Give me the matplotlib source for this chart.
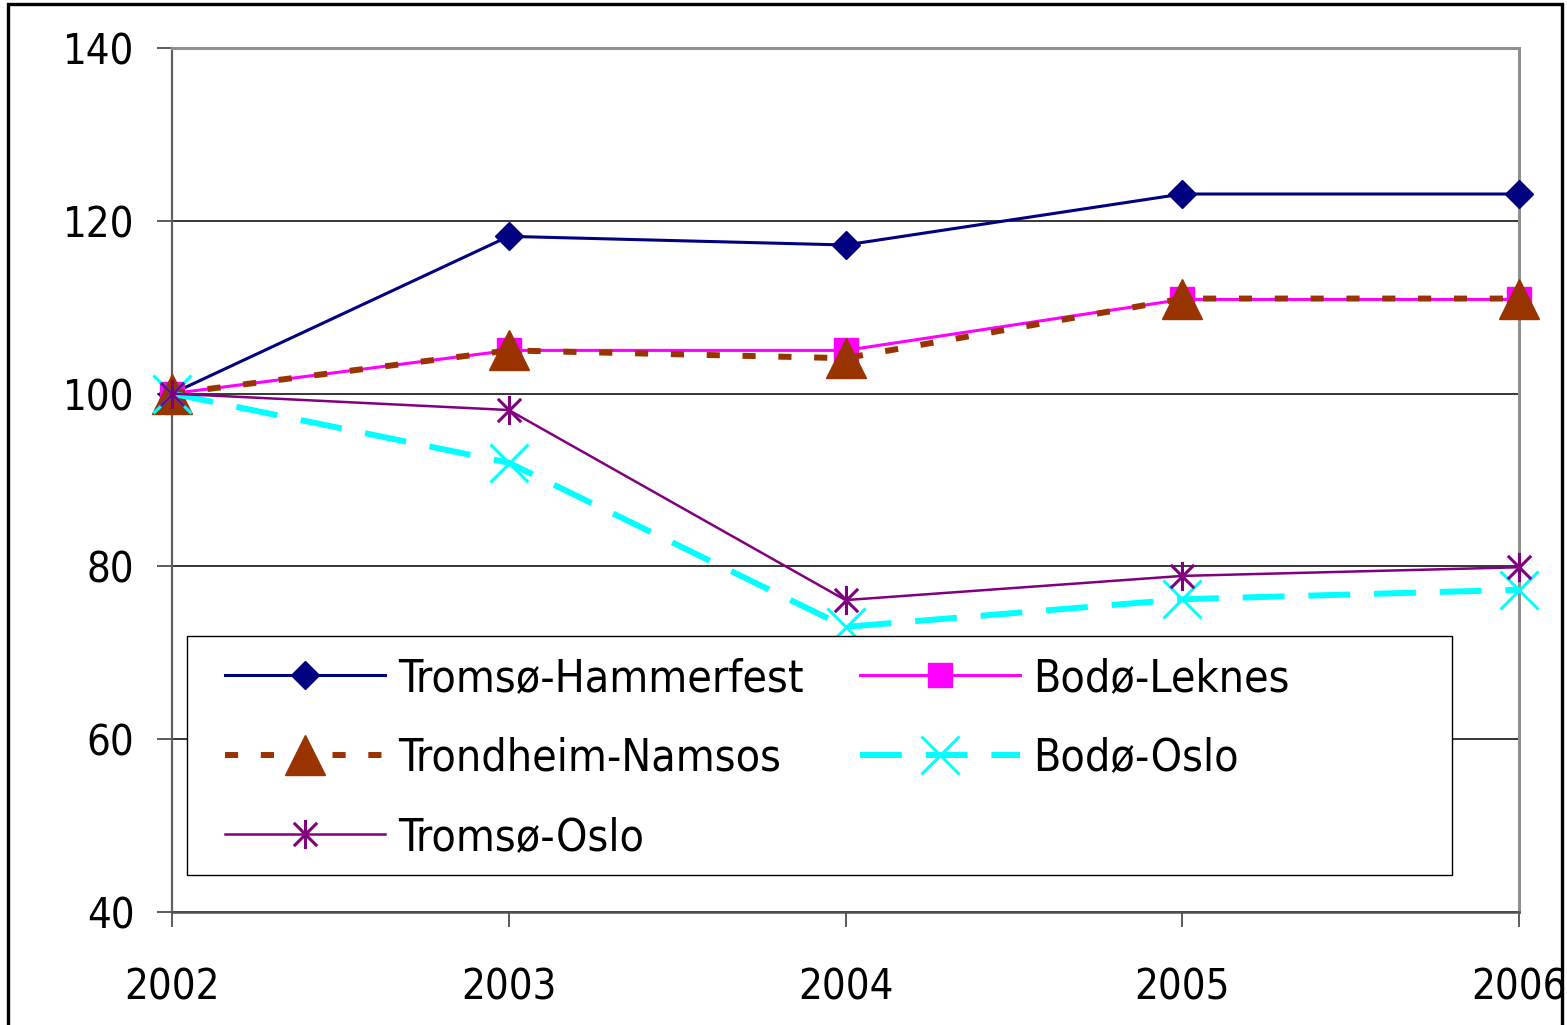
import matplotlib
matplotlib.use("Agg")
import matplotlib.pyplot as plt
from matplotlib.path import Path
from matplotlib.patches import Rectangle
from matplotlib import font_manager as fm
import numpy as np

years = ["2002", "2003", "2004", "2005", "2006"]
tromso_hammerfest = [100, 118.2, 117.2, 123.1, 123.1]
bodo_leknes = [100, 105.0, 105.0, 110.9, 110.9]
trondheim_namsos = [100, 105.0, 104.1, 111.0, 111.0]
bodo_oslo = [100, 92.0, 73.0, 76.2, 77.3]
tromso_oslo = [100, 98.1, 76.1, 78.9, 79.9]
yticks = [40, 60, 80, 100, 120, 140]

# choose a narrow sans font if one is installed
def pick_font():
    prefs = [('liberation sans narrow', None), ('arial narrow', None),
             ('dejavu sans', 'condensed'), ('roboto condensed', None),
             ('open sans condensed', None)]
    for name, stretch in prefs:
        for f in fm.fontManager.ttflist:
            if f.name.lower() == name and f.weight in (400, 'normal', 'regular') \
                    and f.style == 'normal':
                if stretch is None or str(f.stretch) in ('condensed', '300', 'semi-condensed'):
                    return f.fname, name
    return None, 'liberation sans'

fname, chosen = pick_font()
def fp(size):
    if fname:
        return fm.FontProperties(fname=fname, size=size)
    return fm.FontProperties(family=['Liberation Sans', 'DejaVu Sans'], size=size)

W, H = 1567, 1025
fig = plt.figure(figsize=(W / 100, H / 100), dpi=100)
ax = fig.add_axes([172 / W, 1 - 912 / H, (1519 - 172) / W, (912 - 48) / H])

x = np.arange(len(years))

star = Path([(0, -1), (0, 1), (-0.8, -0.8), (0.8, 0.8), (-0.8, 0.8), (0.8, -0.8)],
            [Path.MOVETO, Path.LINETO, Path.MOVETO, Path.LINETO, Path.MOVETO, Path.LINETO])

l1, = ax.plot(x, tromso_hammerfest, color='#000080', lw=2.2, marker='D', ms=14,
              mfc='#000080', mec='#000080', label='Tromsø-Hammerfest', clip_on=False, zorder=3)
l2, = ax.plot(x, bodo_leknes, color='#FF00FF', lw=2.2, marker='s', ms=17,
              mfc='#FF00FF', mec='#FF00FF', label='Bodø-Leknes', clip_on=False, zorder=3)
l3, = ax.plot(x, trondheim_namsos, color='#993300', lw=4.3, dashes=(2.2, 3.8), marker='^', ms=29,
              mfc='#993300', mec='#993300', label='Trondheim-Namsos', clip_on=False, zorder=3)
l4, = ax.plot(x, bodo_oslo, color='#00FFFF', lw=4.3, dashes=(7, 4), marker='x', ms=27, mew=2.2,
              mec='#00FFFF', label='Bodø-Oslo', clip_on=False, zorder=3)
l5, = ax.plot(x, tromso_oslo, color='#800080', lw=1.8, marker=star, ms=21, mew=2.2,
              mfc='none', mec='#800080', label='Tromsø-Oslo', clip_on=False, zorder=3)

ax.set_xlim(0, 4)
ax.set_ylim(40, 140)
ax.set_yticks(yticks)
ax.set_xticks(x)
ax.set_xticklabels(years)
ax.grid(axis='y', color='black', lw=1.1)
ax.set_axisbelow(True)

for s in ['top', 'right']:
    ax.spines[s].set_color('#909090')
    ax.spines[s].set_linewidth(2.2)
ax.spines['left'].set_color('#606060')
ax.spines['left'].set_linewidth(1.6)
ax.spines['bottom'].set_color('#505050')
ax.spines['bottom'].set_linewidth(1.8)

ax.tick_params(axis='y', direction='out', length=11, width=1.2, color='#404040', pad=16)
ax.tick_params(axis='x', direction='out', length=11, width=1.2, color='#404040', pad=28)
for lab in ax.get_xticklabels() + ax.get_yticklabels():
    lab.set_fontproperties(fp(30))

# legend box (fixed size, as in the original)
ax.add_patch(Rectangle((187 / W, 1 - 875 / H), (1452 - 187) / W, (875 - 636) / H,
                       transform=fig.transFigure, facecolor='white', edgecolor='black',
                       lw=1.0, zorder=4, clip_on=False))

handles = [l1, l3, l5, l2, l4]
leg = ax.legend(handles=handles, labels=[h.get_label() for h in handles], ncol=2,
                loc='upper left', bbox_to_anchor=(205 / W, 1 - 637 / H),
                bbox_transform=fig.transFigure, borderaxespad=0,
                prop=fp(32), frameon=False, handlelength=3.6, handletextpad=0.29,
                labelspacing=0.82, columnspacing=1.28, borderpad=0.45)
leg.set_zorder(5)

fig.patches.append(Rectangle((8 / W, -0.05), (1562 - 8) / W, 1.05 - 4 / H,
                             transform=fig.transFigure, fill=False, lw=2.4,
                             edgecolor='black'))

fig.savefig('out.png', dpi=100)
